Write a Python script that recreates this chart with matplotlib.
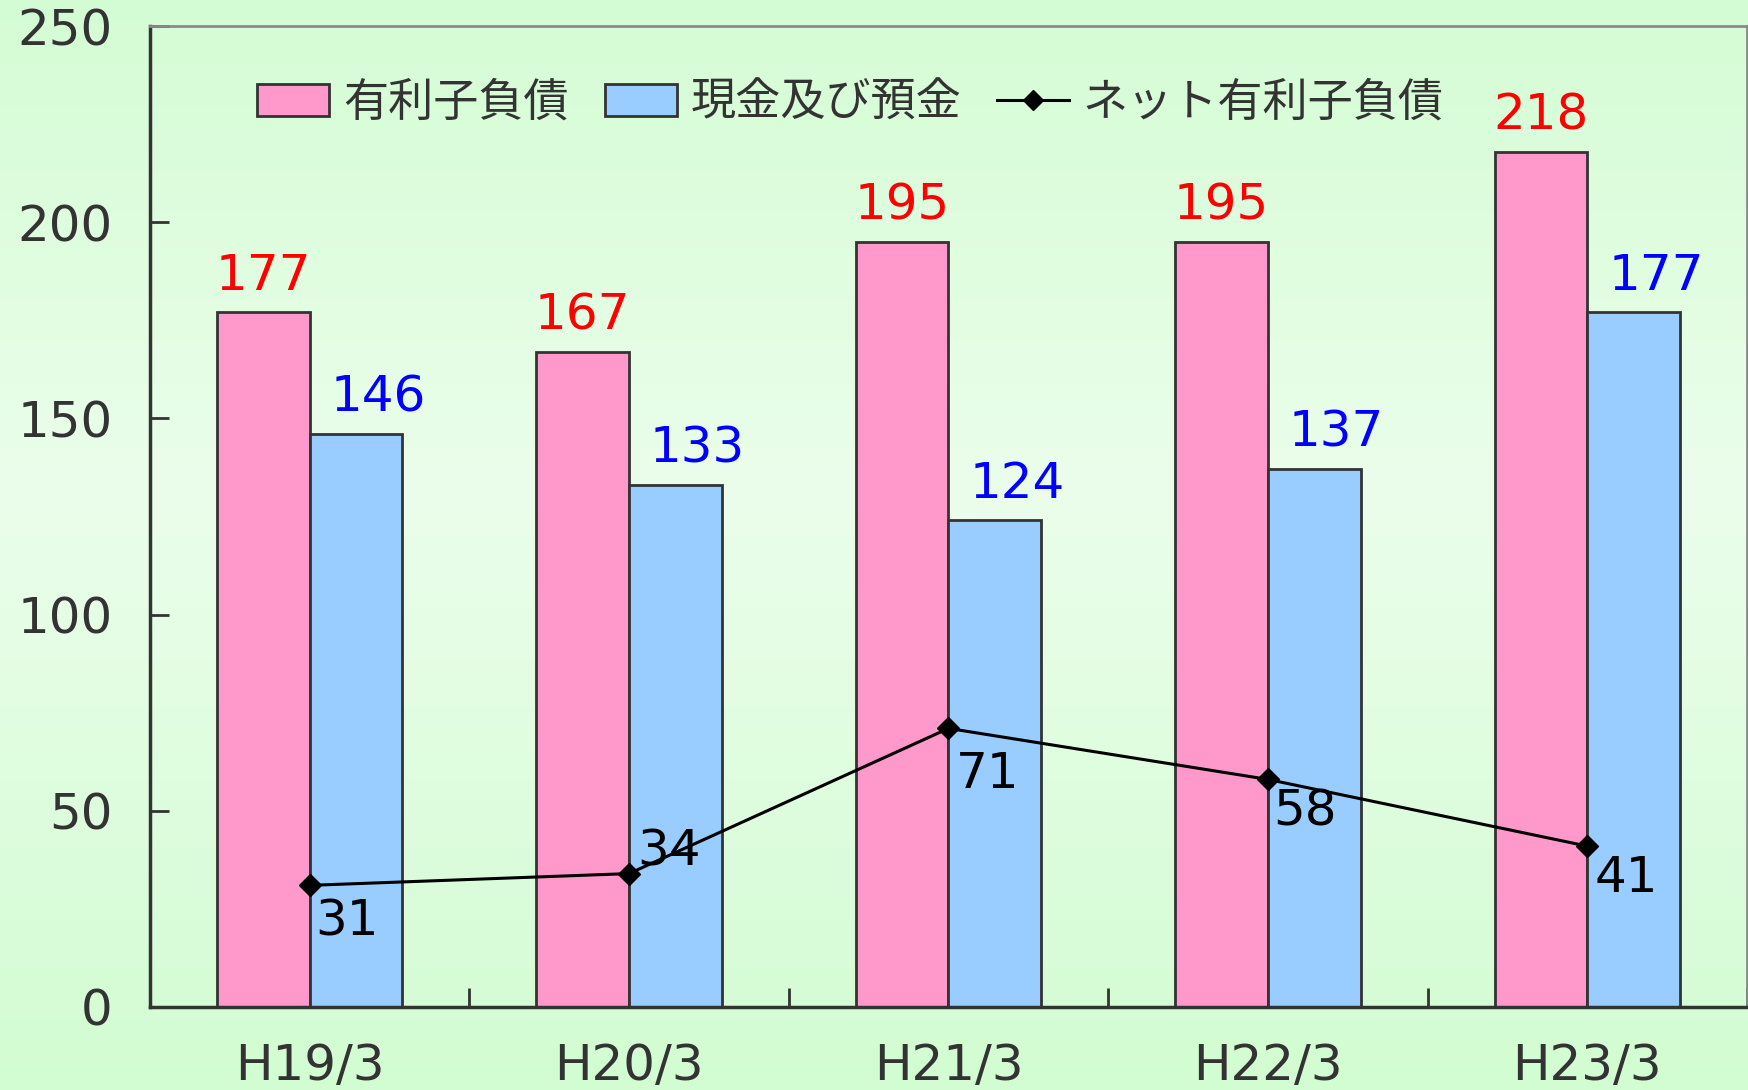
import numpy as np
import matplotlib
matplotlib.use("Agg")
import matplotlib.pyplot as plt
from matplotlib.patches import Patch
from matplotlib.lines import Line2D
from matplotlib.colors import LinearSegmentedColormap

plt.rcParams['font.family'] = ['DejaVu Sans', 'Noto Sans CJK JP']

# データ(単位: 億円)
periods = ["H19/3", "H20/3", "H21/3", "H22/3", "H23/3"]
debt = [177, 167, 195, 195, 218]       # 有利子負債
cash = [146, 133, 124, 137, 177]       # 現金及び預金
net = [31, 34, 71, 58, 41]             # ネット有利子負債
labels = ["有利子負債", "現金及び預金", "ネット有利子負債"]
yticks = [0, 50, 100, 150, 200, 250]

# ラベル位置(ポイント単位のずらし)
net_offsets = [(4, -36), (6, 6), (5, -43), (4, -33), (5, -33)]

PINK, BLUE, EDGE, DARK = "#ff99cc", "#99ccff", "#333333", "#333333"

fig = plt.figure(figsize=(17.49, 10.90), dpi=100)

# 背景グラデーション(上下が濃い緑、中央付近が淡い)
bg = fig.add_axes([0, 0, 1, 1], zorder=-10)
cmap = LinearSegmentedColormap.from_list(
    "bg", [(0.0, "#d4fcd4"), (0.45, "#ebfeeb"), (1.0, "#d2fcd2")])
bg.imshow(np.linspace(0, 1, 256).reshape(-1, 1), aspect="auto", cmap=cmap,
          extent=[0, 1, 0, 1], origin="upper")
bg.axis("off")

ax = fig.add_axes([150 / 1749, 1 - 1007 / 1090, (1747 - 150) / 1749, (1007 - 26) / 1090])
ax.patch.set_alpha(0)

x = np.arange(len(periods))
w = 0.29
ax.bar(x - w / 2, debt, width=w, color=PINK, edgecolor=EDGE, linewidth=2, zorder=2)
ax.bar(x + w / 2, cash, width=w, color=BLUE, edgecolor=EDGE, linewidth=2, zorder=2)
ax.plot(x, net, color="black", lw=2.2, marker="D", ms=11, zorder=4)

for xi, d, c in zip(x, debt, cash):
    ax.annotate(f"{d}", (xi - w / 2, d), xytext=(0, 9), textcoords="offset points",
                ha="center", va="bottom", color="red", fontsize=36, zorder=5)
    ax.annotate(f"{c}", (xi + w / 2, c), xytext=(16, 9), textcoords="offset points",
                ha="center", va="bottom", color="blue", fontsize=36, zorder=5)
for xi, n, off in zip(x, net, net_offsets):
    ax.annotate(f"{n}", (xi, n), xytext=off, textcoords="offset points",
                ha="left", va="baseline", color="black", fontsize=36, zorder=5)

ax.set_xlim(-0.5, len(periods) - 0.5)
ax.set_ylim(0, 250)
ax.set_yticks(yticks)
ax.tick_params(axis="y", direction="in", length=14, width=2, color=DARK,
               labelsize=36, labelcolor=DARK, pad=27)
ax.set_xticks(x)
ax.set_xticklabels(periods)
ax.tick_params(axis="x", which="major", length=0, labelsize=36, labelcolor=DARK, pad=25)
ax.set_xticks(np.arange(len(periods)) + 0.5, minor=True)
ax.tick_params(axis="x", which="minor", direction="in", length=14, width=2, color=DARK)

for side in ("left", "bottom"):
    ax.spines[side].set_color(DARK)
    ax.spines[side].set_linewidth(2.5)
for side in ("top", "right"):
    ax.spines[side].set_color("#8a8a8a")
    ax.spines[side].set_linewidth(2)

handles = [
    Patch(facecolor=PINK, edgecolor=EDGE, linewidth=2),
    Patch(facecolor=BLUE, edgecolor=EDGE, linewidth=2),
    Line2D([0], [0], color="black", lw=2.2, marker="D", ms=10),
]
leg = fig.legend(handles, labels, loc="center left", bbox_to_anchor=(257 / 1749, 1 - 103 / 1090),
                 ncol=3, frameon=False, borderpad=0, borderaxespad=0,
                 handlelength=1.6, handleheight=0.7, handletextpad=0.3, columnspacing=0.8,
                 prop={"family": ["Noto Sans CJK JP", "DejaVu Sans"], "size": 32.5})
for t in leg.get_texts():
    t.set_color(DARK)

fig.savefig("out.png", dpi=100)
